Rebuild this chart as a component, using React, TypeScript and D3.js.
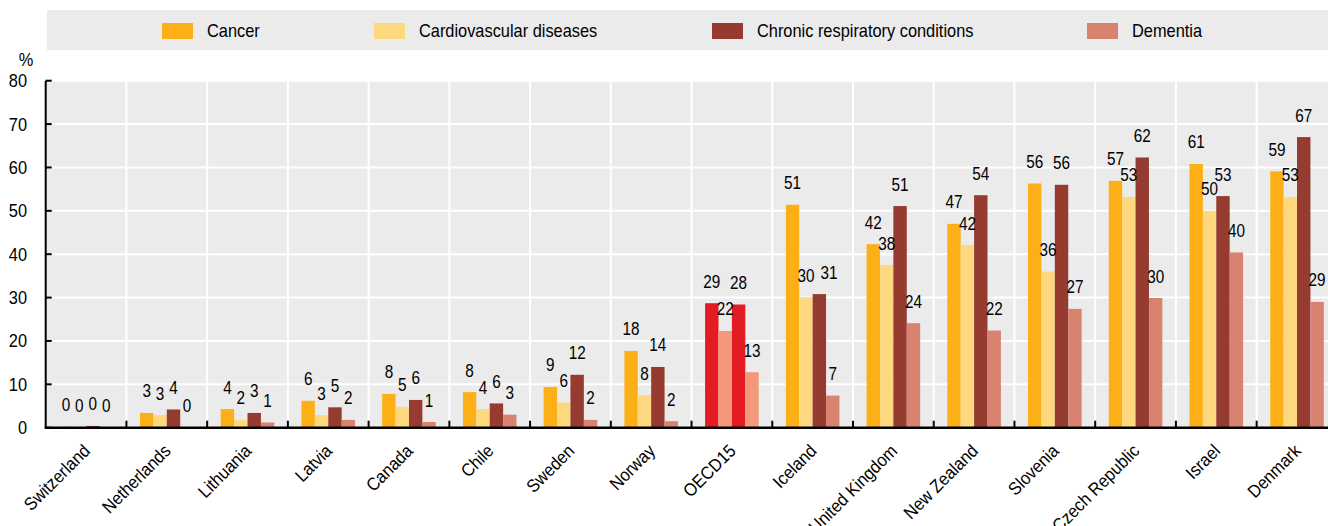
import React from 'react';
import * as d3 from 'd3';

const countries = [
  'Switzerland', 'Netherlands', 'Lithuania', 'Latvia', 'Canada', 'Chile', 'Sweden', 'Norway',
  'OECD15', 'Iceland', 'United Kingdom', 'New Zealand', 'Slovenia', 'Czech Republic', 'Israel', 'Denmark',
];
const seriesNames = ['Cancer', 'Cardiovascular diseases', 'Chronic respiratory conditions', 'Dementia'];

const cancer = [0.2, 3.4, 4.3, 6.2, 7.8, 8.2, 9.4, 17.7, 28.7, 51.4, 42.3, 47.0, 56.3, 56.9, 60.8, 59.1];
const cardio = [0.1, 2.9, 1.8, 2.9, 4.8, 4.3, 5.8, 7.5, 22.3, 30.1, 37.5, 42.1, 36.0, 53.2, 50.0, 53.2];
const chronic = [0.4, 4.2, 3.4, 4.7, 6.4, 5.6, 12.2, 14.0, 28.4, 30.8, 51.1, 53.6, 56.0, 62.3, 53.4, 67.0];
const dementia = [0.0, 0.0, 1.2, 1.8, 1.3, 3.0, 1.8, 1.5, 12.8, 7.4, 24.1, 22.4, 27.4, 29.9, 40.4, 29.0];
const series = [cancer, cardio, chronic, dementia];

const yTicks = [0, 10, 20, 30, 40, 50, 60, 70, 80];

const colors = ['#FDAF17', '#FED87F', '#953B2F', '#D8836F'];
const oecdColors = ['#E31B23', '#F4987B', '#E31B23', '#F4987B'];

const FONT = '"Liberation Sans", Arial, sans-serif';
const DIGIT_W = 8.5; // approx width of one digit in a value label

// text is drawn a little narrower than the regular face, like the source
function Label({ x, y, anchor = 'middle', rot, sx = 0.91, children }: any) {
  return (
    <text
      transform={`translate(${x},${y})${rot ? ` rotate(${rot})` : ''} scale(${sx},1)`}
      textAnchor={anchor}
      fontSize={18}
      fontFamily={FONT}
      fill="#000"
    >
      {children}
    </text>
  );
}

export default function App() {
  const W = 1328;
  const H = 526;
  const left = 45.7;
  const bandW = 80.73;
  const x = d3.scaleBand<string>().domain(countries).range([left, left + bandW * countries.length]).padding(0);
  const y = d3.scaleLinear().domain([0, 80]).range([427.7, 80.7]);
  const groupW = 53.6;
  const x1 = d3.scaleBand<number>().domain([0, 1, 2, 3]).range([0, groupW]).padding(0);
  const plotRight = W;

  const legendX = [162, 374, 712, 1087];

  // value labels sit above each bar; nudge right when one collides with its left neighbour
  const valueLabels = countries.map((c, ci) => {
    const gx = x(c)! + (bandW - groupW) / 2;
    const out: { x: number; y: number; text: string }[] = [];
    series.forEach((vals, si) => {
      const text = String(Math.round(vals[ci]));
      let lx = gx + x1(si)! + x1.bandwidth() / 2;
      const ly = y(vals[ci]) - 15.5;
      const prev = out[out.length - 1];
      if (prev && Math.abs(prev.y - ly) < 12) {
        const prevRight = prev.x + (prev.text.length * DIGIT_W) / 2;
        const myLeft = lx - (text.length * DIGIT_W) / 2;
        if (myLeft < prevRight + 2) lx += prevRight + 6 - myLeft;
      }
      out.push({ x: lx, y: ly, text });
    });
    return out;
  });

  return (
    <svg width={W} height={H} style={{ position: 'absolute', left: 0, top: 0, background: '#fff' }}>
      {/* legend */}
      <rect x={47} y={10} width={W - 47} height={40} fill="#EBEBEB" />
      {seriesNames.map((s, i) => (
        <g key={s}>
          <rect x={legendX[i]} y={23} width={31} height={16} fill={colors[i]} />
          <Label x={legendX[i] + 45} y={37} anchor="start">{s}</Label>
        </g>
      ))}

      {/* plot background + grid */}
      <rect x={left} y={y(80)} width={plotRight - left} height={y(0) - y(80)} fill="#EBEBEB" />
      {yTicks.filter(t => t > 0).map(t => (
        <line key={t} x1={left} x2={plotRight} y1={y(t)} y2={y(t)} stroke="#fff" strokeWidth={2} />
      ))}
      {countries.slice(1).map(c => (
        <line key={c} x1={x(c)!} x2={x(c)!} y1={y(80)} y2={y(0)} stroke="#fff" strokeWidth={2} />
      ))}

      {/* bars */}
      {countries.map((c, ci) => {
        const gx = x(c)! + (bandW - groupW) / 2;
        return (
          <g key={c}>
            {series.map((vals, si) => (
              <rect
                key={si}
                x={gx + x1(si)!}
                y={y(vals[ci])}
                width={x1.bandwidth()}
                height={y(0) - y(vals[ci])}
                fill={c === 'OECD15' ? oecdColors[si] : colors[si]}
              />
            ))}
            {valueLabels[ci].map((l, si) => (
              <Label key={'l' + si} sx={0.85} x={l.x} y={l.y}>{l.text}</Label>
            ))}
          </g>
        );
      })}

      {/* axes */}
      <line x1={left} x2={left} y1={y(80)} y2={y(0)} stroke="#000" strokeWidth={2} />
      {yTicks.map(t => (
        <g key={t}>
          <line x1={left} x2={left + 6} y1={y(t)} y2={y(t)} stroke="#000" strokeWidth={2} />
          <Label x={27} y={y(t) + 6.5} anchor="end">{t}</Label>
        </g>
      ))}
      <Label x={26} y={66}>%</Label>
      <line x1={left - 1} x2={plotRight} y1={y(0)} y2={y(0)} stroke="#000" strokeWidth={2.5} />
      {countries.slice(1).map(c => (
        <line key={c} x1={x(c)!} x2={x(c)!} y1={y(0) - 7} y2={y(0)} stroke="#000" strokeWidth={2} />
      ))}
      {countries.map(c => (
        <Label key={c} x={x(c)! + bandW / 2 + 5} y={452} anchor="end" rot={-45}>{c}</Label>
      ))}
    </svg>
  );
}
